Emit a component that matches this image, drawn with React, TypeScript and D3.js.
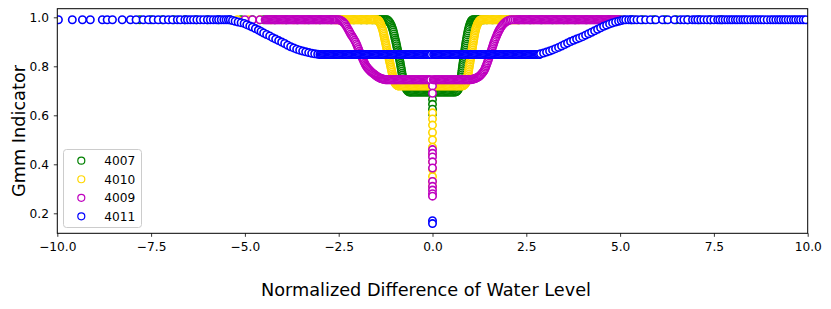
import { useEffect, useRef } from 'react';
import * as d3 from 'd3';

const W = 831, H = 309;
const PLOT = { left: 57.3, right: 807.7, top: 8.7, bottom: 233.3 };
const FONT = 'DejaVu Sans, Liberation Sans, sans-serif';

const LABELS = ['4007', '4010', '4009', '4011'];
const COLORS = ['#008000', '#ffd700', '#bf00bf', '#0000ff'];
const X_TICKS = [-10, -7.5, -5, -2.5, 0, 2.5, 5, 7.5, 10];
const Y_TICKS = [0.2, 0.4, 0.6, 0.8, 1.0];

// values, [x, y]
const S4007: [number, number][] = [
  [-7.8,0.99],[-7.5,0.99],[-7.2,0.99],[-6.9,0.99],[-6.6,0.99],[-6.3,0.99],[-6.0,0.99],[-5.7,0.99],[-5.4,0.99],
  [-5.1,0.99],[-4.8,0.99],[-4.5,0.99],[-4.2,0.99],[-3.9,0.99],[-3.6,0.99],[-3.3,0.99],[-3.0,0.99],[-2.7,0.99],
  [-2.4,0.99],[-2.1,0.99],[-1.9,0.99],[-1.75,0.99],[-1.6,0.99],
  [-1.52,0.99],[-1.49,0.99],[-1.46,0.99],[-1.43,0.99],[-1.4,0.99],[-1.37,0.99],[-1.34,0.99],[-1.31,0.99],
  [-1.28,0.99],[-1.25,0.99],
  [-1.22,0.99],[-1.2,0.989],[-1.18,0.986],[-1.16,0.983],[-1.14,0.979],[-1.12,0.974],[-1.1,0.968],[-1.085,0.962],
  [-1.07,0.955],[-1.055,0.948],[-1.04,0.94],[-1.027,0.932],[-1.015,0.924],[-1.003,0.916],[-0.99,0.908],
  [-0.978,0.9],[-0.966,0.892],[-0.955,0.884],[-0.944,0.876],[-0.933,0.868],[-0.922,0.86],[-0.911,0.852],
  [-0.9,0.844],[-0.889,0.836],[-0.878,0.828],[-0.868,0.82],[-0.858,0.812],[-0.849,0.804],[-0.84,0.796],
  [-0.831,0.788],[-0.822,0.78],[-0.813,0.772],[-0.804,0.764],[-0.795,0.756],[-0.786,0.748],[-0.776,0.74],
  [-0.765,0.733],[-0.752,0.726],[-0.738,0.72],[-0.722,0.714],[-0.705,0.709],[-0.686,0.704],[-0.665,0.7],
  [-0.642,0.697],[-0.618,0.695],[-0.594,0.695],
  [-0.57,0.695],[-0.54,0.695],[-0.51,0.695],[-0.48,0.695],[-0.45,0.695],[-0.42,0.695],[-0.39,0.695],[-0.36,0.695],
  [-0.33,0.695],[-0.3,0.695],[-0.27,0.695],[-0.24,0.695],[-0.21,0.695],[-0.18,0.695],[-0.15,0.695],[-0.12,0.695],
  [-0.09,0.695],[-0.06,0.695],[-0.03,0.695],
  [0,0.69],[0,0.665],[0,0.645],[0,0.625],[0,0.605],
  [0.03,0.695],[0.06,0.695],[0.09,0.695],[0.12,0.695],[0.15,0.695],[0.18,0.695],[0.21,0.695],[0.24,0.695],
  [0.27,0.695],[0.3,0.695],[0.33,0.695],[0.36,0.695],[0.39,0.695],[0.42,0.695],[0.45,0.695],[0.48,0.695],
  [0.51,0.695],[0.54,0.695],[0.57,0.695],
  [0.6,0.695],[0.624,0.696],[0.647,0.698],[0.668,0.701],[0.686,0.705],[0.701,0.71],[0.714,0.716],[0.725,0.722],
  [0.735,0.729],[0.744,0.736],[0.752,0.744],[0.76,0.752],[0.767,0.76],[0.774,0.768],[0.781,0.776],[0.788,0.784],
  [0.795,0.792],[0.802,0.8],[0.809,0.808],[0.816,0.816],[0.823,0.824],[0.83,0.832],[0.837,0.84],[0.844,0.848],
  [0.851,0.856],[0.858,0.864],[0.866,0.872],[0.874,0.88],[0.882,0.888],[0.89,0.896],[0.899,0.904],[0.908,0.912],
  [0.917,0.92],[0.927,0.928],[0.937,0.936],[0.948,0.944],[0.96,0.952],[0.973,0.96],[0.987,0.967],[1.002,0.974],
  [1.018,0.98],[1.035,0.985],[1.053,0.988],[1.072,0.99],
  [1.1,0.99],[1.13,0.99],[1.16,0.99],[1.19,0.99],[1.22,0.99],[1.25,0.99],[1.28,0.99],[1.31,0.99],[1.34,0.99],
  [1.37,0.99],
  [1.45,0.99],[1.6,0.99],[1.8,0.99],[2.0,0.99],[2.3,0.99],[2.6,0.99],[2.9,0.99],[3.2,0.99],[3.5,0.99],[3.8,0.99],
  [4.1,0.99],[4.4,0.99],[4.7,0.99],[5.0,0.99],[5.3,0.99],[5.6,0.99],[5.9,0.99],[6.2,0.99],[6.5,0.99],[6.8,0.99],
  [7.1,0.99],[7.4,0.99],[7.7,0.99],
];

const S4010: [number, number][] = [
  [-5.2,0.99],[-4.9,0.99],[-4.6,0.99],[-4.3,0.99],[-4.0,0.99],[-3.7,0.99],[-3.4,0.99],[-3.1,0.99],[-2.8,0.99],
  [-2.6,0.99],[-2.57,0.99],[-2.54,0.99],[-2.51,0.99],[-2.48,0.99],[-2.45,0.99],[-2.42,0.99],[-2.39,0.99],
  [-2.36,0.99],[-2.33,0.99],[-2.3,0.99],[-2.27,0.99],[-2.24,0.99],[-2.21,0.99],[-2.18,0.99],[-2.15,0.99],
  [-2.12,0.99],[-2.09,0.99],[-2.06,0.99],[-2.03,0.99],[-2.0,0.99],[-1.97,0.99],[-1.94,0.99],[-1.91,0.99],
  [-1.88,0.99],[-1.85,0.99],[-1.82,0.99],[-1.79,0.99],[-1.76,0.99],[-1.73,0.99],[-1.7,0.99],[-1.67,0.99],
  [-1.64,0.99],[-1.61,0.99],[-1.58,0.99],[-1.55,0.99],[-1.52,0.99],
  [-1.48,0.99],[-1.465,0.989],[-1.45,0.988],[-1.435,0.986],[-1.42,0.983],[-1.407,0.98],[-1.395,0.976],
  [-1.382,0.972],[-1.37,0.967],[-1.357,0.962],[-1.345,0.956],[-1.332,0.95],[-1.32,0.944],[-1.31,0.937],
  [-1.3,0.93],[-1.29,0.923],[-1.28,0.916],[-1.27,0.909],[-1.26,0.902],[-1.25,0.895],[-1.24,0.888],[-1.23,0.881],
  [-1.22,0.874],[-1.21,0.867],[-1.2,0.86],[-1.19,0.853],[-1.18,0.846],[-1.17,0.839],[-1.16,0.832],[-1.15,0.825],
  [-1.14,0.818],[-1.13,0.811],[-1.12,0.804],[-1.11,0.797],[-1.1,0.79],[-1.09,0.783],[-1.08,0.776],[-1.07,0.769],
  [-1.06,0.762],[-1.05,0.756],[-1.04,0.75],[-1.03,0.744],[-1.02,0.739],[-1.005,0.734],[-0.99,0.73],
  [-0.975,0.727],[-0.96,0.724],[-0.945,0.722],[-0.93,0.721],[-0.915,0.72],[-0.9,0.72],
  [-0.87,0.72],[-0.84,0.72],[-0.81,0.72],[-0.78,0.72],[-0.75,0.72],[-0.72,0.72],[-0.69,0.72],[-0.66,0.72],
  [-0.63,0.72],[-0.6,0.72],[-0.57,0.72],[-0.54,0.72],[-0.51,0.72],[-0.48,0.72],[-0.45,0.72],[-0.42,0.72],
  [-0.39,0.72],[-0.36,0.72],[-0.33,0.72],[-0.3,0.72],[-0.27,0.72],[-0.24,0.72],[-0.21,0.72],[-0.18,0.72],
  [-0.15,0.72],[-0.12,0.72],[-0.09,0.72],[-0.06,0.72],[-0.03,0.72],
  [0,0.61],[0,0.585],[0,0.56],[0,0.53],[0,0.5],[0,0.47],[0,0.44],[0,0.41],[0,0.38],[0,0.35],[0,0.33],[0,0.31],
  [0.03,0.72],[0.06,0.72],[0.09,0.72],[0.12,0.72],[0.15,0.72],[0.18,0.72],[0.21,0.72],[0.24,0.72],[0.27,0.72],
  [0.3,0.72],[0.33,0.72],[0.36,0.72],[0.39,0.72],[0.42,0.72],[0.45,0.72],[0.48,0.72],[0.51,0.72],[0.54,0.72],
  [0.57,0.72],[0.6,0.72],[0.63,0.72],[0.66,0.72],[0.69,0.72],[0.72,0.72],[0.75,0.72],[0.78,0.72],[0.81,0.72],
  [0.835,0.722],[0.85,0.724],[0.865,0.727],[0.88,0.73],[0.89,0.734],[0.9,0.739],[0.91,0.744],[0.92,0.75],
  [0.93,0.756],[0.94,0.762],[0.948,0.769],[0.955,0.776],[0.963,0.783],[0.97,0.79],[0.978,0.797],[0.985,0.804],
  [0.993,0.811],[1.0,0.818],[1.008,0.825],[1.015,0.832],[1.023,0.839],[1.03,0.846],[1.038,0.853],[1.045,0.86],
  [1.053,0.867],[1.06,0.874],[1.068,0.881],[1.075,0.888],[1.083,0.895],[1.09,0.902],[1.098,0.909],[1.105,0.916],
  [1.113,0.923],[1.12,0.93],[1.13,0.937],[1.14,0.944],[1.15,0.95],[1.16,0.956],[1.172,0.962],[1.185,0.967],
  [1.197,0.972],[1.21,0.976],[1.225,0.98],[1.24,0.983],[1.255,0.986],[1.27,0.988],[1.285,0.989],[1.3,0.99],
  [1.33,0.99],[1.36,0.99],[1.39,0.99],[1.42,0.99],[1.45,0.99],[1.48,0.99],[1.51,0.99],[1.54,0.99],[1.57,0.99],
  [1.6,0.99],[1.63,0.99],[1.66,0.99],[1.69,0.99],[1.72,0.99],[1.75,0.99],[1.78,0.99],[1.81,0.99],[1.84,0.99],
  [1.87,0.99],[1.9,0.99],[1.93,0.99],[1.96,0.99],[1.99,0.99],[2.02,0.99],[2.05,0.99],[2.08,0.99],[2.11,0.99],
  [2.14,0.99],[2.17,0.99],[2.2,0.99],[2.23,0.99],[2.26,0.99],[2.29,0.99],
  [2.45,0.99],[2.7,0.99],[3.0,0.99],[3.3,0.99],[3.6,0.99],[3.9,0.99],[4.2,0.99],[4.5,0.99],[4.8,0.99],[5.1,0.99],
  [5.4,0.99],
];

const S4009: [number, number][] = [
  [-5.0,0.99],[-4.8,0.99],[-4.6,0.99],
  [-4.46,0.99],[-4.43,0.99],[-4.4,0.99],[-4.37,0.99],[-4.34,0.99],[-4.31,0.99],[-4.28,0.99],[-4.25,0.99],
  [-4.22,0.99],[-4.19,0.99],[-4.16,0.99],[-4.13,0.99],[-4.1,0.99],[-4.07,0.99],[-4.04,0.99],[-4.01,0.99],
  [-3.98,0.99],[-3.95,0.99],[-3.92,0.99],[-3.89,0.99],[-3.86,0.99],[-3.83,0.99],[-3.8,0.99],[-3.77,0.99],
  [-3.74,0.99],[-3.71,0.99],[-3.68,0.99],[-3.65,0.99],[-3.62,0.99],[-3.59,0.99],[-3.56,0.99],[-3.53,0.99],
  [-3.5,0.99],[-3.47,0.99],[-3.44,0.99],[-3.41,0.99],[-3.38,0.99],[-3.35,0.99],[-3.32,0.99],[-3.29,0.99],
  [-3.26,0.99],[-3.23,0.99],[-3.2,0.99],[-3.17,0.99],[-3.14,0.99],[-3.11,0.99],[-3.08,0.99],[-3.05,0.99],
  [-3.02,0.99],[-2.99,0.99],[-2.96,0.99],[-2.93,0.99],[-2.9,0.99],[-2.87,0.99],[-2.84,0.99],[-2.81,0.99],
  [-2.78,0.99],[-2.75,0.99],[-2.72,0.99],[-2.69,0.99],[-2.66,0.99],[-2.63,0.99],[-2.6,0.99],[-2.57,0.99],
  [-2.54,0.99],
  [-2.5,0.99],[-2.47,0.989],[-2.44,0.987],[-2.41,0.984],[-2.38,0.981],[-2.355,0.977],[-2.33,0.972],[-2.305,0.966],
  [-2.28,0.96],[-2.255,0.953],[-2.23,0.946],[-2.205,0.939],[-2.18,0.932],[-2.155,0.926],[-2.13,0.92],
  [-2.105,0.914],[-2.08,0.907],[-2.055,0.9],[-2.03,0.892],[-2.01,0.885],[-1.99,0.877],[-1.97,0.87],[-1.95,0.862],
  [-1.93,0.855],[-1.91,0.848],[-1.89,0.841],[-1.87,0.834],[-1.85,0.827],[-1.83,0.82],[-1.81,0.813],[-1.79,0.807],
  [-1.77,0.802],[-1.75,0.797],[-1.725,0.792],[-1.7,0.788],[-1.675,0.784],[-1.65,0.78],[-1.625,0.776],[-1.6,0.773],
  [-1.575,0.77],[-1.55,0.767],[-1.525,0.764],[-1.5,0.761],[-1.475,0.758],[-1.45,0.756],[-1.425,0.754],[-1.4,0.752],
  [-1.375,0.75],[-1.35,0.749],[-1.325,0.748],[-1.3,0.747],[-1.275,0.746],[-1.25,0.745],
  [-1.22,0.745],[-1.19,0.745],[-1.16,0.745],[-1.13,0.745],[-1.1,0.745],[-1.07,0.745],[-1.04,0.745],[-1.01,0.745],
  [-0.98,0.745],[-0.95,0.745],[-0.92,0.745],[-0.89,0.745],[-0.86,0.745],[-0.83,0.745],[-0.8,0.745],[-0.77,0.745],
  [-0.74,0.745],[-0.71,0.745],[-0.68,0.745],[-0.65,0.745],[-0.62,0.745],[-0.59,0.745],[-0.56,0.745],[-0.53,0.745],
  [-0.5,0.745],[-0.47,0.745],[-0.44,0.745],[-0.41,0.745],[-0.38,0.745],[-0.35,0.745],[-0.32,0.745],[-0.29,0.745],
  [-0.26,0.745],[-0.23,0.745],[-0.2,0.745],[-0.17,0.745],[-0.14,0.745],[-0.11,0.745],[-0.08,0.745],[-0.05,0.745],
  [0,0.72],[0,0.69],[0,0.46],[0,0.445],[0,0.43],[0,0.41],[0,0.385],[0,0.33],[0,0.31],[0,0.295],[0,0.28],[0,0.27],
  [0.02,0.745],[0.05,0.745],[0.08,0.745],[0.11,0.745],[0.14,0.745],[0.17,0.745],[0.2,0.745],[0.23,0.745],
  [0.26,0.745],[0.29,0.745],[0.32,0.745],[0.35,0.745],[0.38,0.745],[0.41,0.745],[0.44,0.745],[0.47,0.745],
  [0.5,0.745],[0.53,0.745],[0.56,0.745],[0.59,0.745],[0.62,0.745],[0.65,0.745],[0.68,0.745],[0.71,0.745],
  [0.74,0.745],[0.77,0.745],[0.8,0.745],[0.83,0.745],[0.86,0.745],[0.89,0.745],[0.92,0.745],[0.95,0.745],
  [0.98,0.745],[1.01,0.745],
  [1.04,0.746],[1.065,0.747],[1.09,0.748],[1.115,0.749],[1.14,0.75],[1.165,0.752],[1.19,0.754],[1.215,0.756],
  [1.24,0.758],[1.26,0.761],[1.28,0.764],[1.3,0.767],[1.32,0.771],[1.34,0.775],[1.36,0.779],[1.38,0.784],
  [1.4,0.79],[1.415,0.796],[1.43,0.802],[1.445,0.808],[1.46,0.814],[1.475,0.821],[1.49,0.828],[1.505,0.835],
  [1.52,0.842],[1.535,0.849],[1.55,0.856],[1.565,0.863],[1.58,0.87],[1.595,0.877],[1.61,0.884],[1.625,0.891],
  [1.64,0.898],[1.657,0.905],[1.675,0.912],[1.693,0.919],[1.712,0.926],[1.731,0.933],[1.75,0.939],[1.77,0.945],
  [1.792,0.951],[1.815,0.957],[1.84,0.963],[1.866,0.968],[1.893,0.973],[1.922,0.977],[1.953,0.981],[1.986,0.984],
  [2.02,0.987],[2.06,0.989],[2.1,0.99],[2.15,0.99],[2.2,0.99],
  [2.25,0.99],[2.28,0.99],[2.31,0.99],[2.34,0.99],[2.37,0.99],[2.4,0.99],[2.43,0.99],[2.46,0.99],[2.49,0.99],
  [2.52,0.99],[2.55,0.99],[2.58,0.99],[2.61,0.99],[2.64,0.99],[2.67,0.99],[2.7,0.99],[2.73,0.99],[2.76,0.99],
  [2.79,0.99],[2.82,0.99],[2.85,0.99],[2.88,0.99],[2.91,0.99],[2.94,0.99],[2.97,0.99],[3.0,0.99],[3.03,0.99],
  [3.06,0.99],[3.09,0.99],[3.12,0.99],[3.15,0.99],[3.18,0.99],[3.21,0.99],[3.24,0.99],[3.27,0.99],[3.3,0.99],
  [3.33,0.99],[3.36,0.99],[3.39,0.99],[3.42,0.99],[3.45,0.99],[3.48,0.99],[3.51,0.99],[3.54,0.99],[3.57,0.99],
  [3.6,0.99],[3.63,0.99],[3.66,0.99],[3.69,0.99],[3.72,0.99],[3.75,0.99],[3.78,0.99],[3.81,0.99],[3.84,0.99],
  [3.87,0.99],[3.9,0.99],[3.93,0.99],[3.96,0.99],[3.99,0.99],[4.02,0.99],[4.05,0.99],[4.08,0.99],[4.11,0.99],
  [4.14,0.99],[4.17,0.99],[4.2,0.99],[4.23,0.99],[4.26,0.99],[4.29,0.99],[4.32,0.99],[4.35,0.99],[4.38,0.99],
  [4.41,0.99],[4.44,0.99],[4.47,0.99],[4.5,0.99],[4.53,0.99],[4.56,0.99],[4.59,0.99],[4.62,0.99],[4.65,0.99],
  [4.68,0.99],[4.71,0.99],[4.74,0.99],[4.77,0.99],[4.8,0.99],[4.83,0.99],[4.86,0.99],[4.89,0.99],[4.92,0.99],
  [4.95,0.99],[4.98,0.99],
];

const S4011: [number, number][] = [
  [-9.97,0.99],[-9.6,0.99],[-9.33,0.99],[-9.12,0.99],[-8.8,0.99],[-8.67,0.99],[-8.53,0.99],[-8.27,0.99],
  [-8.05,0.99],[-7.9,0.99],[-7.71,0.99],[-7.57,0.99],[-7.44,0.99],[-7.31,0.99],[-7.17,0.99],[-7.04,0.99],
  [-6.93,0.99],[-6.8,0.99],[-6.72,0.99],[-6.6,0.99],[-6.53,0.99],[-6.45,0.99],[-6.37,0.99],[-6.28,0.99],
  [-6.19,0.99],[-6.1,0.99],[-6.0,0.99],[-5.92,0.99],[-5.84,0.99],[-5.76,0.99],[-5.7,0.99],[-5.63,0.99],
  [-5.56,0.99],[-5.5,0.99],[-5.44,0.99],[-5.39,0.99],
  [-5.33,0.987],[-5.26,0.984],[-5.18,0.981],[-5.1,0.978],[-5.02,0.975],[-4.95,0.97],[-4.87,0.965],[-4.8,0.96],
  [-4.72,0.954],[-4.64,0.948],[-4.57,0.942],[-4.5,0.936],[-4.42,0.93],[-4.34,0.924],[-4.26,0.917],[-4.18,0.911],
  [-4.1,0.905],[-4.02,0.899],[-3.94,0.893],[-3.86,0.886],[-3.78,0.88],[-3.7,0.875],[-3.62,0.87],[-3.54,0.866],
  [-3.46,0.862],[-3.38,0.859],[-3.3,0.856],[-3.22,0.853],[-3.14,0.851],[-3.06,0.849],
  [-3.0,0.848],[-2.97,0.848],[-2.94,0.848],[-2.91,0.848],[-2.88,0.848],[-2.85,0.848],[-2.82,0.848],[-2.79,0.848],
  [-2.76,0.848],[-2.73,0.848],[-2.7,0.848],[-2.67,0.848],[-2.64,0.848],[-2.61,0.848],[-2.58,0.848],[-2.55,0.848],
  [-2.52,0.848],[-2.49,0.848],[-2.46,0.848],[-2.43,0.848],[-2.4,0.848],[-2.37,0.848],[-2.34,0.848],[-2.31,0.848],
  [-2.28,0.848],[-2.25,0.848],[-2.22,0.848],[-2.19,0.848],[-2.16,0.848],[-2.13,0.848],[-2.1,0.848],[-2.07,0.848],
  [-2.04,0.848],[-2.01,0.848],[-1.98,0.848],[-1.95,0.848],[-1.92,0.848],[-1.89,0.848],[-1.86,0.848],[-1.83,0.848],
  [-1.8,0.848],[-1.77,0.848],[-1.74,0.848],[-1.71,0.848],[-1.68,0.848],[-1.65,0.848],[-1.62,0.848],[-1.59,0.848],
  [-1.56,0.848],[-1.53,0.848],[-1.5,0.848],[-1.47,0.848],[-1.44,0.848],[-1.41,0.848],[-1.38,0.848],[-1.35,0.848],
  [-1.32,0.848],[-1.29,0.848],[-1.26,0.848],[-1.23,0.848],[-1.2,0.848],[-1.17,0.848],[-1.14,0.848],[-1.11,0.848],
  [-1.08,0.848],[-1.05,0.848],[-1.02,0.848],[-0.99,0.848],[-0.96,0.848],[-0.93,0.848],[-0.9,0.848],[-0.87,0.848],
  [-0.84,0.848],[-0.81,0.848],[-0.78,0.848],[-0.75,0.848],[-0.72,0.848],[-0.69,0.848],[-0.66,0.848],[-0.63,0.848],
  [-0.6,0.848],[-0.57,0.848],[-0.54,0.848],[-0.51,0.848],[-0.48,0.848],[-0.45,0.848],[-0.42,0.848],[-0.39,0.848],
  [-0.36,0.848],[-0.33,0.848],[-0.3,0.848],[-0.27,0.848],[-0.24,0.848],[-0.21,0.848],[-0.18,0.848],[-0.15,0.848],
  [-0.12,0.848],[-0.09,0.848],[-0.06,0.848],[-0.03,0.848],
  [0,0.17],[0,0.158],
  [0.03,0.848],[0.06,0.848],[0.09,0.848],[0.12,0.848],[0.15,0.848],[0.18,0.848],[0.21,0.848],[0.24,0.848],
  [0.27,0.848],[0.3,0.848],[0.33,0.848],[0.36,0.848],[0.39,0.848],[0.42,0.848],[0.45,0.848],[0.48,0.848],
  [0.51,0.848],[0.54,0.848],[0.57,0.848],[0.6,0.848],[0.63,0.848],[0.66,0.848],[0.69,0.848],[0.72,0.848],
  [0.75,0.848],[0.78,0.848],[0.81,0.848],[0.84,0.848],[0.87,0.848],[0.9,0.848],[0.93,0.848],[0.96,0.848],
  [0.99,0.848],[1.02,0.848],[1.05,0.848],[1.08,0.848],[1.11,0.848],[1.14,0.848],[1.17,0.848],[1.2,0.848],
  [1.23,0.848],[1.26,0.848],[1.29,0.848],[1.32,0.848],[1.35,0.848],[1.38,0.848],[1.41,0.848],[1.44,0.848],
  [1.47,0.848],[1.5,0.848],[1.53,0.848],[1.56,0.848],[1.59,0.848],[1.62,0.848],[1.65,0.848],[1.68,0.848],
  [1.71,0.848],[1.74,0.848],[1.77,0.848],[1.8,0.848],[1.83,0.848],[1.86,0.848],[1.89,0.848],[1.92,0.848],
  [1.95,0.848],[1.98,0.848],[2.01,0.848],[2.04,0.848],[2.07,0.848],[2.1,0.848],[2.13,0.848],[2.16,0.848],
  [2.19,0.848],[2.22,0.848],[2.25,0.848],[2.28,0.848],[2.31,0.848],[2.34,0.848],[2.37,0.848],[2.4,0.848],
  [2.43,0.848],[2.46,0.848],[2.49,0.848],[2.52,0.848],[2.55,0.848],[2.58,0.848],[2.61,0.848],[2.64,0.848],
  [2.67,0.848],[2.7,0.848],[2.73,0.848],[2.76,0.848],[2.79,0.848],[2.82,0.848],[2.85,0.848],
  [2.88,0.851],[2.96,0.854],[3.04,0.858],[3.12,0.862],[3.2,0.867],[3.28,0.872],[3.36,0.877],[3.44,0.883],
  [3.52,0.889],[3.6,0.895],[3.68,0.901],[3.76,0.906],[3.84,0.911],[3.92,0.916],[4.0,0.921],[4.08,0.927],
  [4.16,0.933],[4.24,0.939],[4.32,0.945],[4.4,0.951],[4.48,0.957],[4.56,0.963],[4.64,0.968],[4.72,0.973],
  [4.8,0.977],[4.88,0.981],[4.96,0.984],[5.03,0.987],
  [5.09,0.99],[5.15,0.99],[5.23,0.99],[5.3,0.99],[5.36,0.99],[5.45,0.99],[5.55,0.99],[5.68,0.99],[5.81,0.99],
  [5.95,0.99],[6.13,0.99],[6.27,0.99],[6.45,0.99],[6.61,0.99],[6.7,0.99],[6.8,0.99],[6.93,0.99],[7.0,0.99],
  [7.07,0.99],[7.15,0.99],[7.23,0.99],[7.32,0.99],[7.41,0.99],[7.5,0.99],[7.6,0.99],[7.66,0.99],[7.73,0.99],
  [7.8,0.99],[7.87,0.99],[7.94,0.99],[8.0,0.99],[8.07,0.99],[8.13,0.99],[8.2,0.99],[8.27,0.99],[8.33,0.99],
  [8.4,0.99],[8.48,0.99],[8.56,0.99],[8.62,0.99],[8.69,0.99],[8.76,0.99],[8.83,0.99],[8.92,0.99],[9.01,0.99],
  [9.08,0.99],[9.15,0.99],[9.22,0.99],[9.28,0.99],[9.35,0.99],[9.41,0.99],[9.48,0.99],[9.55,0.99],[9.62,0.99],
  [9.68,0.99],[9.75,0.99],[9.81,0.99],[9.88,0.99],[9.95,0.99],
];

const SERIES = [S4007, S4010, S4009, S4011];

export default function App() {
  const svgRef = useRef<SVGSVGElement>(null);

  useEffect(() => {
    const svg = d3.select(svgRef.current);
    svg.selectAll('*').remove();

    const x = d3.scaleLinear().domain([-10, 10]).range([PLOT.left, PLOT.right]);
    const y = d3.scaleLinear().domain([0.1184, 1.0351]).range([PLOT.bottom, PLOT.top]);

    svg.append('rect').attr('width', W).attr('height', H).attr('fill', '#fff');

    svg.append('clipPath').attr('id', 'plot-clip')
      .append('rect')
      .attr('x', PLOT.left).attr('y', PLOT.top)
      .attr('width', PLOT.right - PLOT.left).attr('height', PLOT.bottom - PLOT.top);

    // scatter, drawn in legend order so blue ends up on top
    const pts = svg.append('g').attr('clip-path', 'url(#plot-clip)');
    SERIES.forEach((data, i) => {
      pts.append('g')
        .selectAll('circle')
        .data(data)
        .join('circle')
        .attr('cx', (d) => x(d[0]))
        .attr('cy', (d) => y(d[1]))
        .attr('r', 3.7)
        .attr('fill', '#fff')
        .attr('stroke', COLORS[i])
        .attr('stroke-width', 1.6);
    });

    // axes
    const xAxis = svg.append('g')
      .attr('transform', `translate(0,${PLOT.bottom})`)
      .call(d3.axisBottom(x).tickValues(X_TICKS).tickSize(3.5).tickPadding(6).tickFormat(d3.format('.1f')));
    const yAxis = svg.append('g')
      .attr('transform', `translate(${PLOT.left},0)`)
      .call(d3.axisLeft(y).tickValues(Y_TICKS).tickSize(3.5).tickPadding(4.8).tickFormat(d3.format('.1f')));
    [xAxis, yAxis].forEach((a) => {
      a.select('.domain').remove();
      a.selectAll('line').attr('stroke', '#000').attr('stroke-width', 0.8);
      a.selectAll('text').attr('font-family', FONT).attr('font-size', 12.2).attr('fill', '#000');
    });

    svg.append('rect')
      .attr('x', PLOT.left).attr('y', PLOT.top)
      .attr('width', PLOT.right - PLOT.left).attr('height', PLOT.bottom - PLOT.top)
      .attr('fill', 'none').attr('stroke', '#000').attr('stroke-width', 1);

    // axis titles
    svg.append('text')
      .attr('x', 426).attr('y', 296)
      .attr('text-anchor', 'middle')
      .attr('font-family', FONT).attr('font-size', 17.7)
      .text('Normalized Difference of Water Level');
    svg.append('text')
      .attr('transform', 'translate(25,131) rotate(-90)')
      .attr('text-anchor', 'middle')
      .attr('font-family', FONT).attr('font-size', 17.7)
      .text('Gmm Indicator');

    // legend
    const legend = svg.append('g');
    legend.append('rect')
      .attr('x', 63.5).attr('y', 149.5).attr('width', 78).attr('height', 78).attr('rx', 3)
      .attr('fill', '#fff').attr('fill-opacity', 0.8)
      .attr('stroke', '#cccccc').attr('stroke-width', 1);
    LABELS.forEach((lab, i) => {
      const row = legend.append('g').attr('transform', `translate(0,${160.7 + i * 18.55})`);
      row.append('circle')
        .attr('cx', 81.3).attr('r', 3.5)
        .attr('fill', '#fff').attr('stroke', COLORS[i]).attr('stroke-width', 1.2);
      row.append('text')
        .attr('x', 104.3).attr('dy', '0.36em')
        .attr('font-family', FONT).attr('font-size', 12.2)
        .text(lab);
    });
  }, []);

  return (
    <svg ref={svgRef} width={W} height={H} style={{ position: 'absolute', left: 0, top: 0 }} />
  );
}
